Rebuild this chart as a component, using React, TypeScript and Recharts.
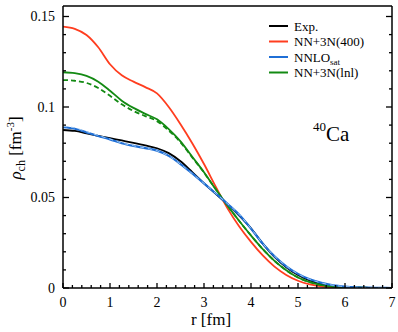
import React from 'react';
import { LineChart, Line, XAxis, YAxis, Customized } from 'recharts';

// radius r [fm]
const r = [0, 0.25, 0.5, 0.75, 1, 1.25, 1.5, 1.75, 2, 2.25, 2.5, 2.75, 3, 3.25, 3.5, 3.75, 4, 4.25, 4.5, 4.75, 5, 5.25, 5.5, 5.75, 6, 6.25, 6.5, 6.75, 7];

const exp = [0.0873, 0.0868, 0.0855, 0.0841, 0.0828, 0.0815, 0.0802, 0.0788, 0.0772, 0.0745, 0.07, 0.064, 0.0578, 0.052, 0.0462, 0.04, 0.033, 0.0245, 0.0172, 0.0115, 0.0072, 0.0042, 0.0022, 0.0011, 0.0005, 0.0002, 0.0001, 0, 0];
const nn400 = [0.1444, 0.1432, 0.1398, 0.133, 0.1236, 0.1175, 0.114, 0.111, 0.1075, 0.1, 0.0905, 0.08, 0.0685, 0.056, 0.044, 0.034, 0.0255, 0.018, 0.0118, 0.0072, 0.004, 0.002, 0.0009, 0.0004, 0.0002, 0.0001, 0, 0, 0];
const nnlosat = [0.0888, 0.088, 0.086, 0.084, 0.0821, 0.08, 0.0785, 0.0773, 0.0759, 0.073, 0.0685, 0.0633, 0.0578, 0.0522, 0.0465, 0.0405, 0.0328, 0.0245, 0.0175, 0.012, 0.0078, 0.0048, 0.0028, 0.0015, 0.0008, 0.0004, 0.0002, 0.0001, 0];
const nnlosatDash = [0.0893, 0.0885, 0.0864, 0.0843, 0.0823, 0.0801, 0.0786, 0.0773, 0.0758, 0.0729, 0.0684, 0.0632, 0.0578, 0.0522, 0.0466, 0.0406, 0.0329, 0.0246, 0.0176, 0.0121, 0.0078, 0.0048, 0.0028, 0.0015, 0.0008, 0.0004, 0.0002, 0.0001, 0];
const lnl = [0.1192, 0.1187, 0.1172, 0.114, 0.109, 0.1035, 0.0995, 0.0962, 0.0932, 0.0878, 0.081, 0.0725, 0.064, 0.0545, 0.0455, 0.037, 0.029, 0.0215, 0.015, 0.0098, 0.0058, 0.0032, 0.0016, 0.0008, 0.0004, 0.0002, 0.0001, 0, 0];
const lnlDash = [0.1149, 0.1145, 0.1133, 0.1105, 0.1062, 0.1015, 0.0978, 0.095, 0.0922, 0.087, 0.0805, 0.0721, 0.0638, 0.0545, 0.0455, 0.037, 0.029, 0.0215, 0.015, 0.0098, 0.0058, 0.0032, 0.0016, 0.0008, 0.0004, 0.0002, 0.0001, 0, 0];

const xMajor = [0, 1, 2, 3, 4, 5, 6, 7];
const yMajor = [0, 0.05, 0.1, 0.15];
const xTicks = Array.from({ length: 36 }, (_, i) => +(i * 0.2).toFixed(1));
const yTicks = Array.from({ length: 16 }, (_, i) => +(i * 0.01).toFixed(2));

const data = r.map((x, i) => ({
  r: x,
  exp: exp[i],
  nn400: nn400[i],
  nnlosat: nnlosat[i],
  nnlosatDash: nnlosatDash[i],
  lnl: lnl[i],
  lnlDash: lnlDash[i],
}));

const BLACK = '#000000';
const RED = '#ff3d1f';
const BLUE = '#1f6fd6';
const GREEN = '#138a13';
const FONT = '"Liberation Serif", "DejaVu Serif", serif';

const isMajor = (list: number[], v: number) => list.some((m) => Math.abs(m - v) < 1e-6);

// bottom ticks: point inward, labels below
const BottomTick = (props: any) => {
  const { x, y, payload } = props;
  const major = isMajor(xMajor, payload.value);
  return (
    <g>
      <line x1={x} x2={x} y1={y} y2={y - (major ? 5 : 3)} stroke={BLACK} strokeWidth={1.3} />
      {major && (
        <text x={x} y={y + 19} textAnchor="middle" fontSize={14} style={{ fontFamily: FONT }} fill="#000">
          {payload.value}
        </text>
      )}
    </g>
  );
};

const LeftTick = (props: any) => {
  const { x, y, payload } = props;
  const major = isMajor(yMajor, payload.value);
  return (
    <g>
      <line x1={x} x2={x + (major ? 6 : 3)} y1={y} y2={y} stroke={BLACK} strokeWidth={1.3} />
      {major && (
        <text x={x - 8} y={y + 5} textAnchor="end" fontSize={14} style={{ fontFamily: FONT }} fill="#000">
          {String(payload.value)}
        </text>
      )}
    </g>
  );
};

const RightTick = (props: any) => {
  const { x, y, payload } = props;
  const major = isMajor(yMajor, payload.value);
  return <line x1={x} x2={x - (major ? 6 : 3)} y1={y} y2={y} stroke={BLACK} strokeWidth={1.3} />;
};

const legend = [
  { name: 'Exp.', color: BLACK },
  { name: 'NN+3N(400)', color: RED },
  { name: 'NNLO', sub: 'sat', color: BLUE },
  { name: 'NN+3N(lnl)', color: GREEN },
];

const txt = { fontFamily: FONT };

const Overlay = () => (
  <g fill="#000">
    {legend.map((d, i) => (
      <g key={d.name}>
        <line x1={269} x2={288} y1={26 + i * 15.5} y2={26 + i * 15.5} stroke={d.color} strokeWidth={2} />
        <text x={294} y={30.5 + i * 15.5} fontSize={13} style={txt}>
          {d.name}
          {d.sub && <tspan fontSize={9} dy={3}>{d.sub}</tspan>}
        </text>
      </g>
    ))}
    <text x={313} y={141} fontSize={21} style={txt}>
      <tspan fontSize={13} dy={-10}>40</tspan>
      <tspan dy={10}>Ca</tspan>
    </text>
    <text x={211} y={325} fontSize={17} textAnchor="middle" style={txt}>r [fm]</text>
    <text transform="translate(21,148) rotate(-90)" fontSize={17} textAnchor="middle" style={txt}>
      <tspan fontStyle="italic">ρ</tspan>
      <tspan fontSize={12} dy={4}>ch</tspan>
      <tspan dy={-4}> [fm</tspan>
      <tspan fontSize={11} dy={-7}>-3</tspan>
      <tspan dy={7}>]</tspan>
    </text>
  </g>
);

export default function App() {
  return (
    <div style={{ position: 'absolute', left: 0, top: 0 }}>
      <LineChart width={398} height={332} data={data} margin={{ top: 5, right: 5, left: 62, bottom: 43 }}>
        <XAxis
          dataKey="r"
          type="number"
          domain={[0, 7]}
          ticks={xTicks}
          interval={0}
          height={1}
          allowDataOverflow
          stroke={BLACK}
          strokeWidth={1.5}
          tickLine={false}
          tickSize={0}
          tickMargin={0}
          tick={<BottomTick />}
        />
        <XAxis
          xAxisId="top"
          orientation="top"
          dataKey="r"
          type="number"
          domain={[0, 7]}
          ticks={xMajor}
          height={1}
          allowDataOverflow
          tick={false}
          tickLine={false}
          stroke={BLACK}
          strokeWidth={1.5}
        />
        <YAxis
          type="number"
          domain={[0, 0.1558]}
          ticks={yTicks}
          interval={0}
          width={1}
          allowDataOverflow
          stroke={BLACK}
          strokeWidth={1.5}
          tickLine={false}
          tickSize={0}
          tickMargin={0}
          tick={<LeftTick />}
        />
        <YAxis
          yAxisId="right"
          orientation="right"
          type="number"
          domain={[0, 0.1558]}
          ticks={yTicks}
          interval={0}
          width={1}
          allowDataOverflow
          stroke={BLACK}
          strokeWidth={1.5}
          tickLine={false}
          tickSize={0}
          tickMargin={0}
          tick={<RightTick />}
        />
        <Line type="monotone" dataKey="exp" stroke={BLACK} strokeWidth={1.8} dot={false} isAnimationActive={false} />
        <Line type="monotone" dataKey="nn400" stroke={RED} strokeWidth={1.8} dot={false} isAnimationActive={false} />
        <Line type="monotone" dataKey="lnl" stroke={GREEN} strokeWidth={1.8} dot={false} isAnimationActive={false} />
        <Line type="monotone" dataKey="lnlDash" stroke={GREEN} strokeWidth={1.8} strokeDasharray="5 3" dot={false} isAnimationActive={false} />
        <Line type="monotone" dataKey="nnlosat" stroke={BLUE} strokeWidth={2.2} dot={false} isAnimationActive={false} />
        <Line type="monotone" dataKey="nnlosatDash" stroke="#9fc8f2" strokeWidth={1} strokeDasharray="4 4" dot={false} isAnimationActive={false} />
        <Customized component={Overlay} />
      </LineChart>
    </div>
  );
}
